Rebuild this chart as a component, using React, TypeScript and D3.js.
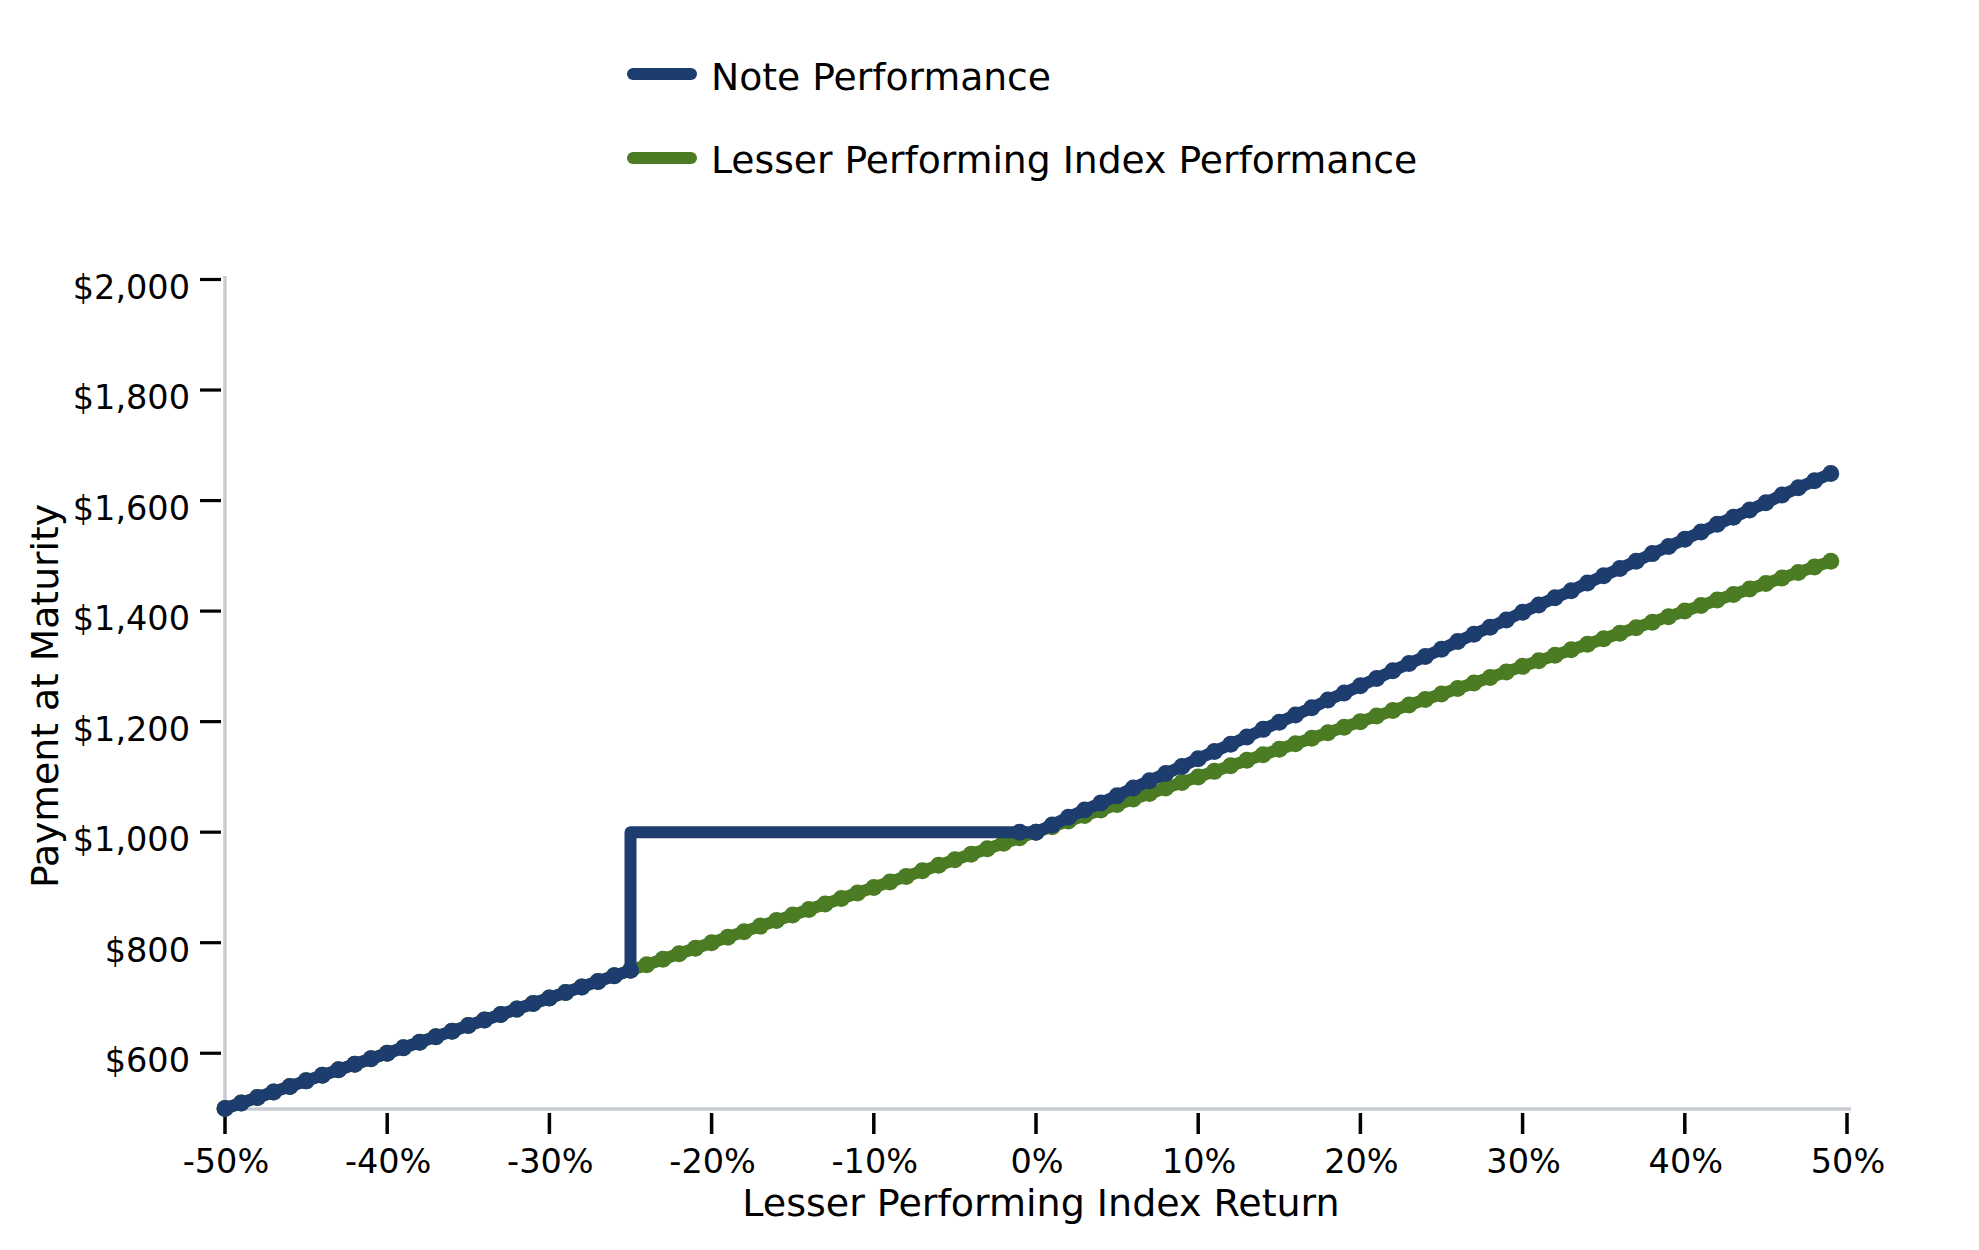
import React from "react";
import * as d3 from "d3";

// ---- data ----
const returnsPct = [
  -50, -49, -48, -47, -46, -45, -44, -43, -42, -41, -40, -39, -38, -37, -36, -35, -34, -33, -32, -31,
  -30, -29, -28, -27, -26, -25, -24, -23, -22, -21, -20, -19, -18, -17, -16, -15, -14, -13, -12, -11,
  -10, -9, -8, -7, -6, -5, -4, -3, -2, -1, 0, 1, 2, 3, 4, 5, 6, 7, 8, 9,
  10, 11, 12, 13, 14, 15, 16, 17, 18, 19, 20, 21, 22, 23, 24, 25, 26, 27, 28, 29,
  30, 31, 32, 33, 34, 35, 36, 37, 38, 39, 40, 41, 42, 43, 44, 45, 46, 47, 48, 49,
];

const indexPayment = [
  500, 510, 520, 530, 540, 550, 560, 570, 580, 590, 600, 610, 620, 630, 640, 650, 660, 670, 680, 690,
  700, 710, 720, 730, 740, 750, 760, 770, 780, 790, 800, 810, 820, 830, 840, 850, 860, 870, 880, 890,
  900, 910, 920, 930, 940, 950, 960, 970, 980, 990, 1000, 1010, 1020, 1030, 1040, 1050, 1060, 1070, 1080, 1090,
  1100, 1110, 1120, 1130, 1140, 1150, 1160, 1170, 1180, 1190, 1200, 1210, 1220, 1230, 1240, 1250, 1260, 1270, 1280, 1290,
  1300, 1310, 1320, 1330, 1340, 1350, 1360, 1370, 1380, 1390, 1400, 1410, 1420, 1430, 1440, 1450, 1460, 1470, 1480, 1490,
];

// Note: the -25% point appears twice (barrier step from $750 to $1,000)
const noteReturnsPct = [
  -50, -49, -48, -47, -46, -45, -44, -43, -42, -41, -40, -39, -38, -37, -36, -35, -34, -33, -32, -31,
  -30, -29, -28, -27, -26, -25, -25, -24, -23, -22, -21, -20, -19, -18, -17, -16, -15, -14, -13, -12, -11,
  -10, -9, -8, -7, -6, -5, -4, -3, -2, -1, 0, 1, 2, 3, 4, 5, 6, 7, 8, 9,
  10, 11, 12, 13, 14, 15, 16, 17, 18, 19, 20, 21, 22, 23, 24, 25, 26, 27, 28, 29,
  30, 31, 32, 33, 34, 35, 36, 37, 38, 39, 40, 41, 42, 43, 44, 45, 46, 47, 48, 49,
];

const notePayment = [
  500, 510, 520, 530, 540, 550, 560, 570, 580, 590, 600, 610, 620, 630, 640, 650, 660, 670, 680, 690,
  700, 710, 720, 730, 740, 750, 1000, 1000, 1000, 1000, 1000, 1000, 1000, 1000, 1000, 1000, 1000, 1000, 1000, 1000, 1000,
  1000, 1000, 1000, 1000, 1000, 1000, 1000, 1000, 1000, 1000, 1000, 1013, 1027, 1040, 1053, 1066, 1080, 1093, 1106, 1119,
  1133, 1146, 1159, 1172, 1186, 1199, 1212, 1225, 1239, 1252, 1265, 1278, 1292, 1305, 1318, 1331, 1345, 1358, 1371, 1384,
  1398, 1411, 1424, 1437, 1451, 1464, 1477, 1490, 1504, 1517, 1530, 1543, 1557, 1570, 1583, 1596, 1610, 1623, 1636, 1649,
];

const xTicks = [-50, -40, -30, -20, -10, 0, 10, 20, 30, 40, 50];
const yTicks = [600, 800, 1000, 1200, 1400, 1600, 1800, 2000];

const seriesNames = ["Note Performance", "Lesser Performing Index Performance"];
const xTitle = "Lesser Performing Index Return";
const yTitle = "Payment at Maturity";

// ---- style ----
const W = 1979;
const H = 1250;
const BLUE = "#1d3d6f";
const GREEN = "#4b7b23";
const AXIS_GRAY = "#c8cdd2";
const FONT = "'DejaVu Sans', sans-serif";

export default function App() {
  const x = d3.scaleLinear().domain([-50, 50]).range([225, 1847]);
  const y = d3.scaleLinear().domain([500, 2000]).range([1108.5, 279.5]);

  const indexPts = returnsPct.map((r, i) => [r, indexPayment[i]] as [number, number]);
  const notePts = noteReturnsPct.map((r, i) => [r, notePayment[i]] as [number, number]);

  const line = d3
    .line<[number, number]>()
    .x((d) => x(d[0]))
    .y((d) => y(d[1]));

  // markers appear only on the sloped parts of the note line
  const noteMarkerPts = notePts.filter(
    (d, i) => d[0] >= -1 || (d[0] <= -25 && d[1] < 1000 && i < 26)
  );

  const fmtDollar = (v: number) => "$" + d3.format(",")(v);

  return (
    <svg
      width={W}
      height={H}
      style={{ position: "absolute", left: 0, top: 0, background: "#fff" }}
      fontFamily={FONT}
    >
      {/* legend */}
      <g>
        <line x1={633} x2={691} y1={74} y2={74} stroke={BLUE} strokeWidth={12} strokeLinecap="round" />
        <text x={711} y={90} fontSize={37.7} fill="#000">
          {seriesNames[0]}
        </text>
        <line x1={633} x2={691} y1={158} y2={158} stroke={GREEN} strokeWidth={12} strokeLinecap="round" />
        <text x={711} y={173} fontSize={37.7} fill="#000">
          {seriesNames[1]}
        </text>
      </g>

      {/* axes lines */}
      <line x1={225} x2={225} y1={276} y2={1110} stroke={AXIS_GRAY} strokeWidth={3.5} />
      <line x1={223} x2={1851} y1={1109} y2={1109} stroke={AXIS_GRAY} strokeWidth={3.5} />

      {/* y ticks */}
      {yTicks.map((v) => (
        <g key={"y" + v}>
          <line x1={200} x2={221} y1={y(v)} y2={y(v)} stroke="#000" strokeWidth={3.2} />
          <text x={190} y={y(v) + 19} fontSize={33.5} textAnchor="end" fill="#000">
            {fmtDollar(v)}
          </text>
        </g>
      ))}

      {/* x ticks */}
      {xTicks.map((v) => (
        <g key={"x" + v}>
          <line x1={x(v)} x2={x(v)} y1={1113} y2={1134} stroke="#000" strokeWidth={3.5} />
          <text x={x(v) + 1} y={1173} fontSize={33.5} textAnchor="middle" fill="#000">
            {v + "%"}
          </text>
        </g>
      ))}

      {/* axis titles */}
      <text x={1041} y={1216} fontSize={38} textAnchor="middle" fill="#000">
        {xTitle}
      </text>
      <text
        transform={`translate(58, 696) rotate(-90)`}
        fontSize={37.7}
        textAnchor="middle"
        fill="#000"
      >
        {yTitle}
      </text>

      {/* index series */}
      <path
        d={line(indexPts) || ""}
        fill="none"
        stroke={GREEN}
        strokeWidth={12}
        strokeLinejoin="round"
        strokeLinecap="round"
      />
      {indexPts.map((d, i) => (
        <circle key={"g" + i} cx={x(d[0])} cy={y(d[1])} r={8.5} fill={GREEN} />
      ))}

      {/* note series */}
      <path
        d={line(notePts) || ""}
        fill="none"
        stroke={BLUE}
        strokeWidth={12}
        strokeLinejoin="round"
        strokeLinecap="round"
      />
      {noteMarkerPts.map((d, i) => (
        <circle key={"b" + i} cx={x(d[0])} cy={y(d[1])} r={8.5} fill={BLUE} />
      ))}
    </svg>
  );
}
